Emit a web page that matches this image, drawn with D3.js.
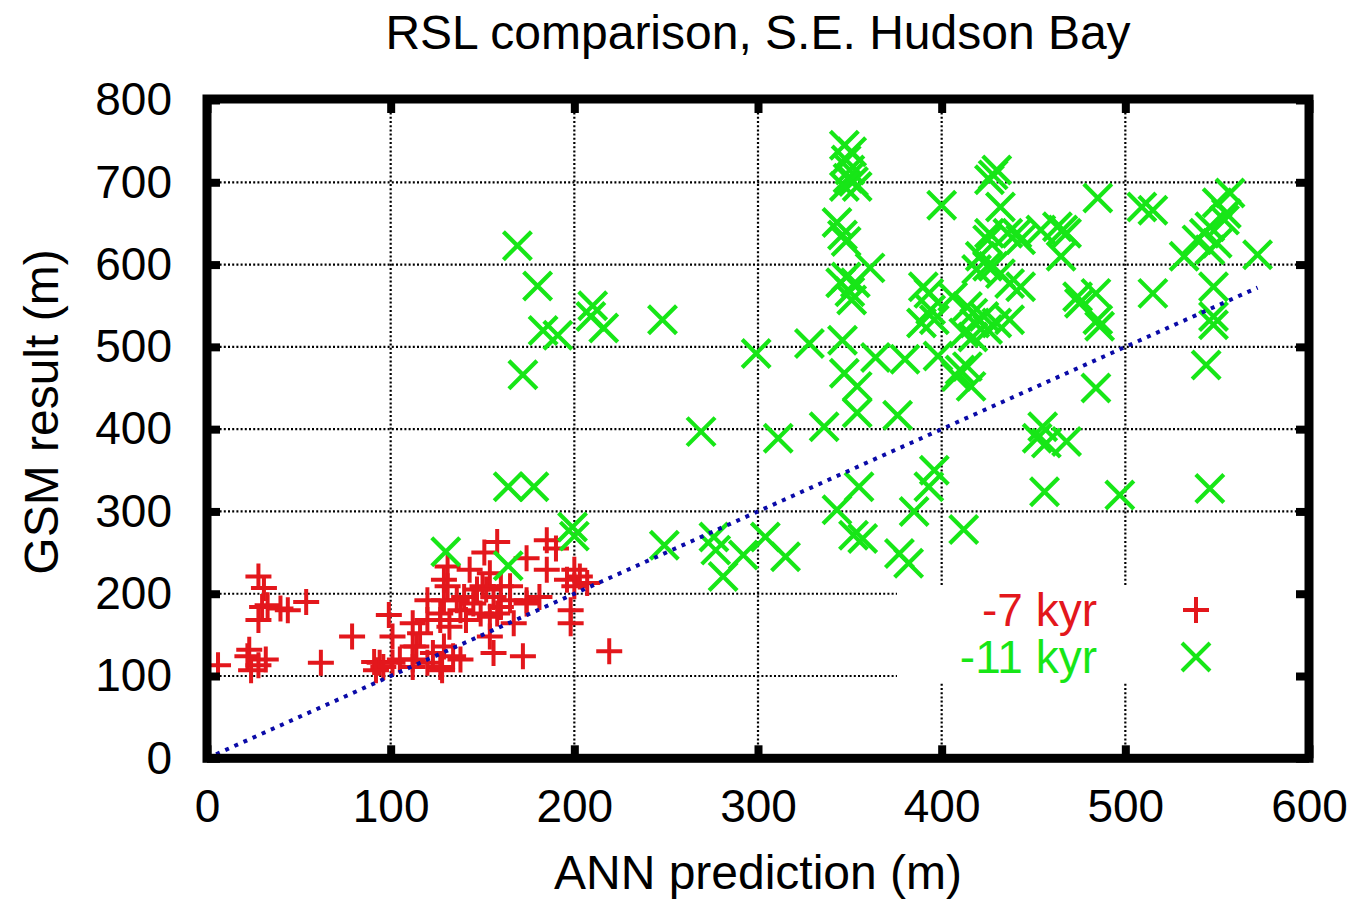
<!DOCTYPE html>
<html>
<head>
<meta charset="utf-8">
<script src="https://cdn.jsdelivr.net/npm/d3@7"></script>
<style>
  html, body { margin: 0; padding: 0; background: #fff; }
  svg { display: block; }
  text { font-family: "Liberation Sans", Arial, Helvetica, sans-serif; }
</style>
</head>
<body>
<svg id="chart" width="1354" height="901"></svg>
<script>
// Axis ticks
const xTicks = [0, 100, 200, 300, 400, 500, 600];
const yTicks = [0, 100, 200, 300, 400, 500, 600, 700, 800];

// Series: [ANN prediction, GSM result] in metres
const kyr7 = [
  [28,221],[31,207],[30,184],[33,186],[40,182],[28,168],[44,180],[54,190],
  [6,113],[23,132],[22,124],[32,120],[24,107],[28,113],[62,116],[79,148],
  [99,174],[101,148],[91,117],[94,116],[96,111],[101,116],[92,107],
  [112,164],[116,152],[120,168],[114,136],[112,120],[120,116],[123,128],[129,136],
  [134,124],[127,111],[128,107],[138,120],
  [131,233],[129,217],[131,209],[129,192],[127,176],[120,192],[127,168],[132,160],
  [138,180],[141,168],[140,196],[143,229],[145,188],[149,176],[150,209],[154,225],
  [158,263],[154,172],[156,196],[160,209],[160,184],[154,148],[156,128],[165,192],
  [174,243],[174,192],[172,124],[181,196],[185,265],[190,255],[185,229],[200,229],
  [203,221],[196,217],[207,213],[200,209],[198,180],[198,164],[219,130],[112,136],
  [112,111],[105,120],[158,176],[152,205],[167,164],[174,188],[165,209],[136,192],
  [147,205],[151,250]
];

const kyr11 = [
  [169,623],[180,574],[183,520],[191,514],[210,550],[209,537],[216,523],[172,466],
  [164,330],[178,330],[199,281],[200,270],[130,251],[164,234],[249,259],[248,533],
  [299,492],[328,504],[346,508],[364,487],[380,485],[398,489],
  [347,745],[351,737],[348,727],[350,715],[349,705],[352,701],[347,695],[354,695],
  [343,651],[346,636],[348,628],
  [348,585],[361,596],[350,567],[353,578],[351,557],[345,578],
  [400,672],[428,709],[432,670],[426,638],[436,638],[443,630],[454,642],[463,646],
  [468,638],[465,610],[421,610],[425,598],[419,594],[432,589],[437,577],[443,573],
  [390,573],[394,545],[389,529],[406,561],[414,549],[418,529],[423,537],[430,529],
  [437,533],[417,512],[425,521],[474,561],
  [347,468],[354,452],[354,420],[414,476],[408,464],[416,452],[410,472],
  [336,403],[376,417],[455,403],[452,389],[457,383],[468,385],[269,397],[311,389],
  [276,269],[277,253],[281,221],[292,247],[304,269],[315,245],[355,330],[343,302],
  [352,271],[357,267],[377,249],[382,237],[385,300],[393,330],[396,350],[412,278],
  [456,324],[497,320],[546,328],[484,450],
  [485,681],[509,670],[515,666],[557,687],[550,675],[554,654],[546,646],[543,638],
  [539,630],[532,610],[546,618],[550,626],[555,662],[572,612],
  [484,565],[475,553],[486,525],[485,533],[515,565],[548,573],[548,537],[548,527],
  [544,478],
  [430,715],[426,703],[425,630],[466,642],[441,638],[428,598],[393,565],[417,541],
  [396,533],[412,517]
];

// 1:1 reference line
const refLine = [[0, 0], [572, 572]];

const seriesLabels = ["-7 kyr", "-11 kyr"];
const titleText = "RSL comparison, S.E. Hudson Bay";
const xLabel = "ANN prediction (m)";
const yLabel = "GSM result (m)";

(function draw() {
  const RED = "#e3171c";
  const GREEN = "#17e617";
  const BLUE = "#0a0aa8";
  const TICK_FONT = 46;
  const LABEL_FONT = 48;

  const svg = d3.select("#chart");
  svg.append("rect").attr("width", 1354).attr("height", 901).attr("fill", "#fff");

  const pL = 207, pR = 1309, pT = 100, pB = 758.3;
  const x = d3.scaleLinear().domain([0, 600]).range([pL, pR]);
  const y = d3.scaleLinear().domain([0, 800]).range([pB, pT]);

  // Dotted grid
  const grid = svg.append("g").attr("stroke", "#000").attr("stroke-width", 2.2)
    .attr("stroke-dasharray", "2,2.2");
  grid.selectAll("line.v").data(xTicks.slice(1, -1)).join("line")
    .attr("x1", d => x(d)).attr("x2", d => x(d))
    .attr("y1", pT).attr("y2", pB);
  grid.selectAll("line.h").data(yTicks.slice(1, -1)).join("line")
    .attr("x1", pL).attr("x2", pR)
    .attr("y1", d => y(d)).attr("y2", d => y(d));

  // Opaque key box
  const keyBox = { x0: 897, x1: 1304, y0: 587, y1: 683 };
  svg.append("rect")
    .attr("x", keyBox.x0).attr("y", keyBox.y0)
    .attr("width", keyBox.x1 - keyBox.x0).attr("height", keyBox.y1 - keyBox.y0)
    .attr("fill", "#fff");

  // Marker shapes
  const plusPath = "M-13,0H13M0,-13V13";
  const crossPath = "M-14,-14L14,14M-14,14L14,-14";

  svg.append("g").selectAll("path").data(kyr7).join("path")
    .attr("d", plusPath)
    .attr("transform", d => `translate(${x(d[0])},${y(d[1])})`)
    .attr("stroke", RED).attr("stroke-width", 4).attr("fill", "none");

  svg.append("g").selectAll("path").data(kyr11).join("path")
    .attr("d", crossPath)
    .attr("transform", d => `translate(${x(d[0])},${y(d[1])})`)
    .attr("stroke", GREEN).attr("stroke-width", 4.2).attr("fill", "none");

  // Reference line y = x
  svg.append("path")
    .datum(refLine)
    .attr("d", d3.line().x(d => x(d[0])).y(d => y(d[1])))
    .attr("stroke", BLUE).attr("stroke-width", 4).attr("stroke-dasharray", "4,6")
    .attr("fill", "none");

  // Axes with inward ticks on all four sides
  function styleAxis(g) {
    g.select(".domain").remove();
    g.selectAll(".tick line").attr("stroke", "#000").attr("stroke-width", 8);
    g.selectAll(".tick text").attr("fill", "#000").attr("font-size", TICK_FONT)
      .attr("font-family", "Liberation Sans, Arial, sans-serif");
  }
  svg.append("g").attr("transform", `translate(0,${pB})`)
    .call(d3.axisBottom(x).tickValues(xTicks).tickSize(-13).tickPadding(31).tickFormat(d3.format("d")))
    .call(styleAxis);
  svg.append("g").attr("transform", `translate(0,${pT})`)
    .call(d3.axisTop(x).tickValues(xTicks).tickSize(-13).tickFormat(""))
    .call(styleAxis);
  svg.append("g").attr("transform", `translate(${pL},0)`)
    .call(d3.axisLeft(y).tickValues(yTicks).tickSize(-13).tickPadding(35).tickFormat(d3.format("d")))
    .call(styleAxis);
  svg.append("g").attr("transform", `translate(${pR},0)`)
    .call(d3.axisRight(y).tickValues(yTicks).tickSize(-13).tickFormat(""))
    .call(styleAxis);

  // Border
  svg.append("rect")
    .attr("x", pL).attr("y", pT - 1)
    .attr("width", pR - pL).attr("height", pB - pT + 1)
    .attr("fill", "none").attr("stroke", "#000").attr("stroke-width", 9);

  // Key
  const key = svg.append("g").attr("font-size", TICK_FONT);
  const keyRows = [
    { label: seriesLabels[0], color: RED, path: plusPath, ty: 626, my: 610 },
    { label: seriesLabels[1], color: GREEN, path: crossPath, ty: 673, my: 657 }
  ];
  keyRows.forEach(r => {
    key.append("text").attr("x", 1097).attr("y", r.ty).attr("text-anchor", "end")
      .attr("fill", r.color).text(r.label);
    key.append("path").attr("d", r.path)
      .attr("transform", `translate(1196,${r.my})`)
      .attr("stroke", r.color).attr("stroke-width", 4).attr("fill", "none");
  });

  // Titles
  svg.append("text").attr("x", 758).attr("y", 49).attr("text-anchor", "middle")
    .attr("font-size", LABEL_FONT).attr("fill", "#000").text(titleText);
  svg.append("text").attr("x", 758).attr("y", 889).attr("text-anchor", "middle")
    .attr("font-size", LABEL_FONT).attr("fill", "#000").text(xLabel);
  svg.append("text").attr("transform", "translate(58,412) rotate(-90)")
    .attr("text-anchor", "middle")
    .attr("font-size", LABEL_FONT).attr("fill", "#000").text(yLabel);
})();
</script>
</body>
</html>
